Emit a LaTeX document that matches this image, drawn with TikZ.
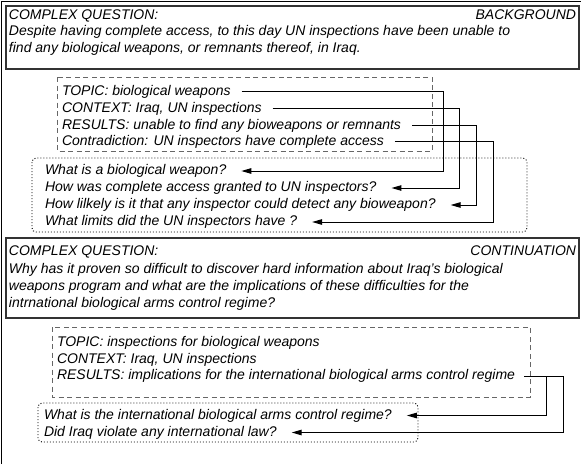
\documentclass[tikz,border=0pt]{standalone}
\usepackage{fontspec}
\setmainfont{Liberation Sans}
\usetikzlibrary{arrows.meta}
\begin{document}
\begin{tikzpicture}[x=1pt,y=-1pt,
  txt/.style={anchor=west,inner sep=0pt,outer sep=0pt,font=\fontsize{14}{17}\selectfont\itshape,text height=10pt,text depth=3pt},
  qbox/.style={draw=black!80,line width=1.1pt},
  dbox/.style={draw=black!60,line width=1pt,dash pattern=on 5pt off 3.5pt},
  obox/.style={draw=black,line width=0.9pt,dash pattern=on 1pt off 2pt,rounded corners=4pt},
  conn/.style={draw=black,line width=1pt},
  arr/.style={conn,-{Triangle[length=10pt,width=5.5pt]}},
]
\useasboundingbox (0,0) rectangle (581,464);
\draw[line width=0.8pt] (1.5,464) -- (1.5,1.5) -- (581,1.5);

% ---------- first block
\draw[qbox] (6,6) rectangle (579,69);
\node[txt] (h1) at (9,15.5) {COMPLEX QUESTION:};
\node[txt,anchor=east] (b1) at (576,15.5) {BACKGROUND};
\node[txt] (c1a) at (9,32) {Despite having complete access, to this day UN inspections have been unable to};
\node[txt] (c1b) at (9,49) {find any biological weapons, or remnants thereof, in Iraq.};

\draw[dbox] (57,77) rectangle (432,151);
\node[txt] (t1) at (62,91.5) {TOPIC: biological weapons};
\node[txt] (t2) at (62,108.5) {CONTEXT: Iraq, UN inspections};
\node[txt] (t3) at (62,125.5) {RESULTS: unable to find any bioweapons or remnants};
\node[txt] (t4) at (62,141.5) {Contradiction: UN inspectors have complete access};

\draw[obox] (32,158) rectangle (527,232);
\node[txt] (q1) at (45,171) {What is a biological weapon?};
\node[txt] (q2) at (45,188) {How was complete access granted to UN inspectors?};
\node[txt] (q3) at (45,205) {How lilkely is it that any inspector could detect any bioweapon?};
\node[txt] (q4) at (45,222) {What limits did the UN inspectors have ?};

\coordinate (v1) at (443,0);
\coordinate (v2) at (459,0);
\coordinate (v3) at (476,0);
\coordinate (v4) at (493,0);
\draw[arr] ([xshift=11pt]t1.east) -| (v1 |- q1.east) -- ([xshift=15pt]q1.east);
\draw[arr] ([xshift=11pt]t2.east) -| (v2 |- q2.east) -- ([xshift=15pt]q2.east);
\draw[arr] ([xshift=11pt]t3.east) -| (v3 |- q3.east) -- ([xshift=15pt]q3.east);
\draw[arr] ([xshift=11pt]t4.east) -| (v4 |- q4.east) -- ([xshift=15pt]q4.east);

% ---------- second block
\draw[qbox] (6,238) rectangle (579,318);
\node[txt] (h2) at (9,252) {COMPLEX QUESTION:};
\node[txt,anchor=east] (b2) at (576,252) {CONTINUATION};
\node[txt] (c2a) at (9,270) {Why has it proven so difficult to discover hard information about Iraq's biological};
\node[txt] (c2b) at (9,287) {weapons program and what are the implications of these difficulties for the};
\node[txt] (c2c) at (9,304) {intrnational biological arms control regime?};

\draw[dbox] (52,327) rectangle (530,397);
\node[txt] (s1) at (57,343) {TOPIC: inspections for biological weapons};
\node[txt] (s2) at (57,359.5) {CONTEXT: Iraq, UN inspections};
\node[txt] (s3) at (57,376) {RESULTS: implications for the international biological arms control regime};

\draw[obox] (38,403) rectangle (418,442);
\node[txt] (p1) at (44,415.5) {What is the international biological arms control regime?};
\node[txt] (p2) at (44,432.5) {Did Iraq violate any international law?};

\coordinate (w1) at (546,0);
\coordinate (w2) at (563,0);
\draw[arr] ([xshift=9pt]s3.east) -| (w2 |- p2.east) -- ([xshift=15pt]p2.east);
\draw[arr] (w1 |- s3.east) -- (w1 |- p1.east) -- ([xshift=15pt]p1.east);
\end{tikzpicture}
\end{document}
